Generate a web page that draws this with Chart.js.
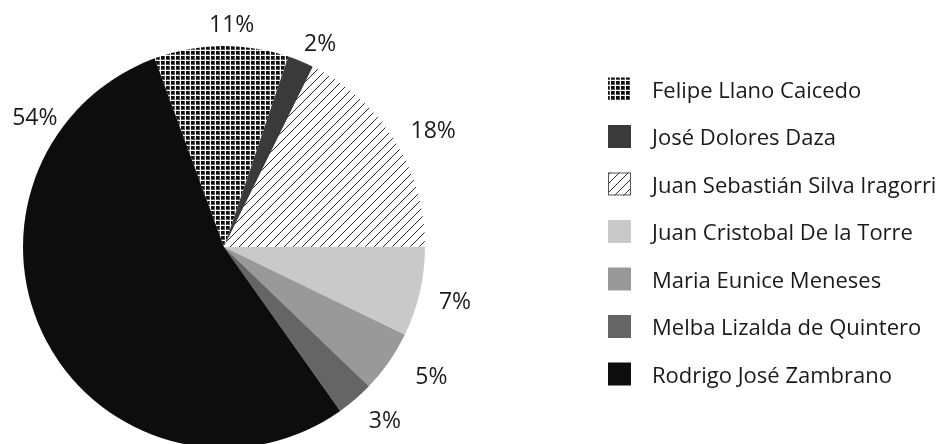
<!DOCTYPE html>
<html>
<head>
<meta charset="utf-8">
<script src="https://cdn.jsdelivr.net/npm/chart.js@4.4.1/dist/chart.umd.min.js"></script>
<style>
    html, body { margin: 0; padding: 0; background: #fff; }
    #wrap { width: 936px; height: 444px; overflow: hidden; }
</style>
</head>
<body>
<div id="wrap"><canvas id="pieChart" width="936" height="460"></canvas></div>
<script>
const names = [
    'Felipe Llano Caicedo',
    'José Dolores Daza',
    'Juan Sebastián Silva Iragorri',
    'Juan Cristobal De la Torre',
    'Maria Eunice Meneses',
    'Melba Lizalda de Quintero',
    'Rodrigo José Zambrano'
];
const shares = [10.8, 2.1, 17.7, 7.2, 5.0, 3.0, 54.2];

// grid and hatch fills
function gridFill() {
    const c = document.createElement('canvas');
    c.width = 5; c.height = 5;
    const g = c.getContext('2d');
    g.fillStyle = '#ffffff';
    g.fillRect(0, 0, 5, 5);
    g.fillStyle = '#555555';
    g.fillRect(1, 1, 4, 4);
    g.fillStyle = '#0d0d0d';
    g.fillRect(1, 1, 3, 3);
    return g.createPattern(c, 'repeat');
}

function hatchFill() {
    const s = 9;
    const c = document.createElement('canvas');
    c.width = s; c.height = s;
    const g = c.getContext('2d');
    g.fillStyle = '#ffffff';
    g.fillRect(0, 0, s, s);
    g.strokeStyle = '#2a2a2a';
    g.lineWidth = 1;
    g.beginPath();
    g.moveTo(-1, s + 1); g.lineTo(s + 1, -1);
    g.moveTo(-1, 1); g.lineTo(1, -1);
    g.moveTo(s - 1, s + 1); g.lineTo(s + 1, s - 1);
    g.stroke();
    return g.createPattern(c, 'repeat');
}

const fills = [gridFill(), '#3a3a3a', hatchFill(), '#c9c9c9', '#999999', '#656565', '#0d0d0d'];

const sliceLabels = {
    id: 'sliceLabels',
    afterDatasetsDraw(chart, args, opts) {
        const ctx = chart.ctx;
        const meta = chart.getDatasetMeta(0);
        const total = shares.reduce((a, b) => a + b, 0);
        ctx.save();
        ctx.font = opts.font;
        ctx.fillStyle = '#1a1a1a';
        ctx.textAlign = 'center';
        ctx.textBaseline = 'middle';
        meta.data.forEach((arc, i) => {
            const p = opts.place[i];
            const { x, y, startAngle, endAngle, outerRadius } =
                arc.getProps(['x', 'y', 'startAngle', 'endAngle', 'outerRadius'], true);
            const a = startAngle + (endAngle - startAngle) * p.at;
            const r = outerRadius + p.gap;
            ctx.fillText(Math.round(shares[i] / total * 100) + '%', x + Math.cos(a) * r, y + Math.sin(a) * r + 2);
        });
        ctx.restore();
    }
};

const sideLegend = {
    id: 'sideLegend',
    afterDraw(chart, args, opts) {
        const ctx = chart.ctx;
        const bg = chart.data.datasets[0].backgroundColor;
        ctx.save();
        ctx.font = opts.font;
        ctx.textAlign = 'left';
        ctx.textBaseline = 'middle';
        chart.data.labels.forEach((name, i) => {
            const cy = opts.top + i * opts.step;
            ctx.fillStyle = bg[i];
            ctx.fillRect(opts.left, cy - opts.box / 2, opts.box, opts.box);
            if (i === 2) {
                ctx.strokeStyle = '#555';
                ctx.lineWidth = 1;
                ctx.strokeRect(opts.left + 0.5, cy - opts.box / 2 + 0.5, opts.box - 1, opts.box - 1);
            }
            ctx.fillStyle = '#1a1a1a';
            ctx.fillText(name, opts.textX, cy + 2.5);
        });
        ctx.restore();
    }
};

new Chart(document.getElementById('pieChart'), {
    type: 'pie',
    data: {
        labels: names,
        datasets: [{
            data: shares,
            backgroundColor: fills,
            borderWidth: 0,
            hoverOffset: 0,
            offset: 0
        }]
    },
    options: {
        responsive: false,
        animation: false,
        events: [],
        rotation: -20.2,
        layout: { padding: { left: 23, right: 511, top: 46, bottom: 12 } },
        plugins: {
            legend: { display: false },
            tooltip: { enabled: false },
            sliceLabels: {
                font: '23px "Open Sans"',
                place: [
                    { at: 0.57, gap: 23 },
                    { at: 0.86, gap: 25 },
                    { at: 0.54, gap: 39 },
                    { at: 0.50, gap: 36 },
                    { at: 0.33, gap: 43 },
                    { at: 0.29, gap: 35 },
                    { at: 0.82, gap: 29 }
                ]
            },
            sideLegend: {
                font: '22px "Open Sans"',
                left: 608, box: 23, textX: 652, top: 89, step: 47.5
            }
        }
    },
    plugins: [sliceLabels, sideLegend]
});
</script>
</body>
</html>
